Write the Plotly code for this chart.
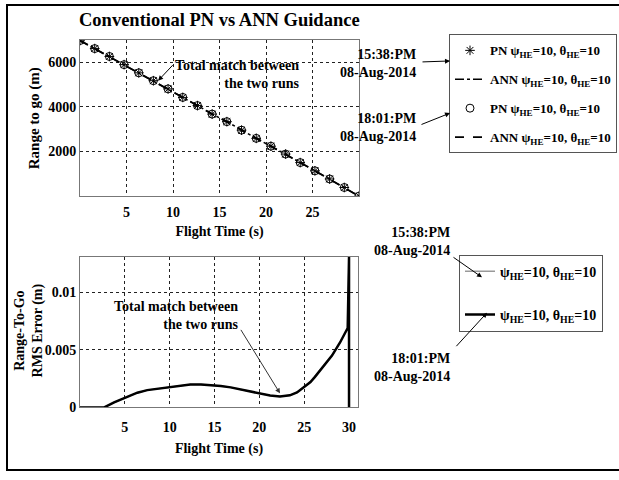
import plotly.graph_objects as go

W, H = 619, 480

# ---------------- data ----------------
# top panel: range to go (m) vs flight time (s), markers every sample
t_samples = [0.0, 1.58, 3.16, 4.74, 6.32, 7.89, 9.47, 11.05, 12.63, 14.21,
             15.79, 17.37, 18.95, 20.53, 22.11, 23.68, 25.26, 26.84, 28.42, 30.0]
range_pn_1538 = [6960, 6600, 6248, 5882, 5516, 5164, 4798, 4417, 4051, 3670,
                 3333, 2952, 2586, 2234, 1883, 1502, 1135, 769, 388, 0]
range_ann_1538 = [6960, 6600, 6248, 5882, 5516, 5164, 4798, 4417, 4051, 3670,
                  3333, 2952, 2586, 2234, 1883, 1502, 1135, 769, 388, 0]
range_pn_1801 = [6960, 6600, 6248, 5882, 5516, 5164, 4798, 4417, 4051, 3670,
                 3333, 2952, 2586, 2234, 1883, 1502, 1135, 769, 388, 0]
range_ann_1801 = [6960, 6600, 6248, 5882, 5516, 5164, 4798, 4417, 4051, 3670,
                  3333, 2952, 2586, 2234, 1883, 1502, 1135, 769, 388, 0]

# bottom panel: range-to-go RMS error (m)
t_err = [0.0, 2.7, 3.8, 5.0, 6.4, 7.5, 8.8, 10.1, 11.2, 12.3, 13.5, 14.6, 15.7,
         16.8, 17.9, 19.0, 20.1, 21.2, 22.3, 23.4, 24.2, 25.0, 25.7, 26.2,
         27.1, 28.1, 29.0, 29.85, 30.0, 30.0]
err_1538 = [0, 0, 0.00043, 0.00085, 0.00128, 0.0015, 0.00165, 0.0018, 0.0019,
            0.00199, 0.002, 0.00194, 0.00186, 0.00174, 0.00156, 0.00137,
            0.0012, 0.00103, 0.00094, 0.00105, 0.0013, 0.0018, 0.0022,
            0.00265, 0.0035, 0.0045, 0.00564, 0.0069, 0.0131, 0]
err_1801 = [0, 0, 0.00043, 0.00085, 0.00128, 0.0015, 0.00165, 0.0018, 0.0019,
            0.00199, 0.002, 0.00194, 0.00186, 0.00174, 0.00156, 0.00137,
            0.0012, 0.00103, 0.00094, 0.00105, 0.0013, 0.0018, 0.0022,
            0.00265, 0.0035, 0.0045, 0.00564, 0.0069, 0.0131, 0]

top_xticks = [5, 10, 15, 20, 25]
top_yticks = [2000, 4000, 6000]
bot_xticks = [5, 10, 15, 20, 25, 30]
bot_yticks = [0, 0.005, 0.01]
bot_yticktext = ["0", "0.005", "0.01"]

label = "ψ<sub>HE</sub>=10, θ<sub>HE</sub>=10"

# ---------------- figure ----------------
FONT = "Liberation Serif"
fnt = lambda s: dict(family=FONT, size=s, color="black", weight="bold")

fig = go.Figure()

fig.add_trace(go.Scatter(x=t_samples, y=range_pn_1538, mode="markers",
                         name="PN " + label, legendgroup="a",
                         marker=dict(symbol="asterisk-open", size=8, color="black",
                                     line=dict(color="black", width=1)),
                         xaxis="x", yaxis="y", legend="legend"))
fig.add_trace(go.Scatter(x=t_samples, y=range_ann_1538, mode="lines",
                         name="ANN " + label, legendgroup="b",
                         line=dict(color="black", width=1.5, dash="dashdot"),
                         xaxis="x", yaxis="y", legend="legend"))
fig.add_trace(go.Scatter(x=t_samples, y=range_pn_1801, mode="markers",
                         name="PN " + label, legendgroup="c",
                         marker=dict(symbol="circle-open", size=8, color="black",
                                     line=dict(color="black", width=1)),
                         xaxis="x", yaxis="y", legend="legend"))
fig.add_trace(go.Scatter(x=t_samples, y=range_ann_1801, mode="lines",
                         name="ANN " + label, legendgroup="d",
                         line=dict(color="black", width=1.8, dash="dash"),
                         xaxis="x", yaxis="y", legend="legend"))

fig.add_trace(go.Scatter(x=t_err, y=err_1538, mode="lines", name=label,
                         legendgroup="e",
                         line=dict(color="#999999", width=1.5),
                         xaxis="x2", yaxis="y2", legend="legend2"))
fig.add_trace(go.Scatter(x=t_err, y=err_1801, mode="lines", name=label,
                         legendgroup="f",
                         line=dict(color="black", width=2.5),
                         xaxis="x2", yaxis="y2", legend="legend2"))

px = lambda v: v / W
py = lambda v: 1 - v / H

axis_common = dict(showgrid=True, gridcolor="#222", griddash="dot", gridwidth=1,
                   showline=True, mirror=True, linecolor="#777", linewidth=1,
                   zeroline=False, ticks="", tickfont=fnt(14))

fig.update_layout(
    width=W, height=H, margin=dict(l=0, r=0, t=0, b=0),
    paper_bgcolor="white", plot_bgcolor="white",
    xaxis=dict(domain=[px(80), px(359)], anchor="y", range=[0, 30],
               tickvals=top_xticks, ticklabelstandoff=3,
               title=dict(text="Flight Time (s)", font=fnt(14), standoff=7),
               **axis_common),
    yaxis=dict(domain=[py(199.5), py(41)], anchor="x", range=[0, 6970],
               tickvals=top_yticks,
               title=dict(text="Range to go (m)", font=fnt(15), standoff=4),
               **axis_common),
    xaxis2=dict(domain=[px(80), px(358)], anchor="y2", range=[0, 31],
                tickvals=bot_xticks, ticklabelstandoff=7,
                title=dict(text="Flight Time (s)", font=fnt(14), standoff=9),
                **axis_common),
    yaxis2=dict(domain=[py(414.3), py(261)], anchor="x2", range=[0, 0.0131],
                tickvals=bot_yticks, ticktext=bot_yticktext,
                **axis_common),
    legend=dict(x=px(449), y=py(35), xanchor="left", yanchor="top",
                bgcolor="white", bordercolor="#555", borderwidth=1,
                font=fnt(13), itemwidth=30, tracegroupgap=9),
    legend2=dict(x=px(459), y=py(259), xanchor="left", yanchor="top",
                 bgcolor="white", bordercolor="#555", borderwidth=1,
                 font=fnt(14), itemwidth=30, tracegroupgap=22),
    showlegend=True,
)

ann = []
# title
ann.append(dict(text="Conventional PN vs ANN Guidance", x=px(219), y=py(20),
                xref="paper", yref="paper", xanchor="center", yanchor="middle",
                showarrow=False, font=fnt(18.5)))
# bottom y-axis title (two lines)
ann.append(dict(text="Range-To-Go<br>RMS Error (m)", x=px(29), y=py(336),
                xref="paper", yref="paper", xanchor="center", yanchor="middle",
                textangle=-90, showarrow=False, font=fnt(14)))
# top panel note
ann.append(dict(text="Total match between<br>the two runs", x=px(301), y=py(76),
                xref="paper", yref="paper", xanchor="right", yanchor="middle",
                align="right", showarrow=False, font=fnt(14)))
ann.append(dict(text="", x=8.4, y=5165, xref="x", yref="y", showarrow=True,
                arrowhead=2, arrowsize=1, arrowwidth=1, arrowcolor="black",
                ax=16, ay=-17))
# bottom panel note
ann.append(dict(text="Total match between<br>the two runs", x=px(240), y=py(321),
                xref="paper", yref="paper", xanchor="right", yanchor="middle",
                align="right", showarrow=False, font=fnt(14)))
ann.append(dict(text="", x=22.3, y=0.00122, xref="x2", yref="y2", showarrow=True,
                arrowhead=2, arrowsize=1, arrowwidth=1, arrowcolor="#333",
                ax=-40, ay=-65))

# run time stamps
def stamp(xr, yc, tip, tail, time):
    ann.append(dict(text=time + "<br>08-Aug-2014", x=px(xr), y=py(yc),
                    xref="paper", yref="paper", xanchor="right", yanchor="middle",
                    align="right", showarrow=False, font=fnt(14)))
    ann.append(dict(text="", x=px(tip[0]), y=py(tip[1]), xref="paper", yref="paper",
                    showarrow=True, arrowhead=2, arrowsize=1, arrowwidth=1,
                    arrowcolor="black", ax=tail[0] - tip[0], ay=tail[1] - tip[1]))

stamp(418, 65, (450, 62), (421, 63), "15:38:PM")
stamp(418, 129.5, (450, 115), (420, 127), "18:01:PM")
stamp(452, 246, (482, 282), (452, 261), "15:38:PM")
stamp(452, 374, (487, 318), (455, 353), "18:01:PM")

fig.update_layout(annotations=ann)

# outer frame
fig.add_shape(type="rect", xref="paper", yref="paper",
              x0=px(7), x1=px(622), y0=py(478), y1=py(5),
              line=dict(color="black", width=2), fillcolor="rgba(0,0,0,0)")

fig.write_html("out.html")
